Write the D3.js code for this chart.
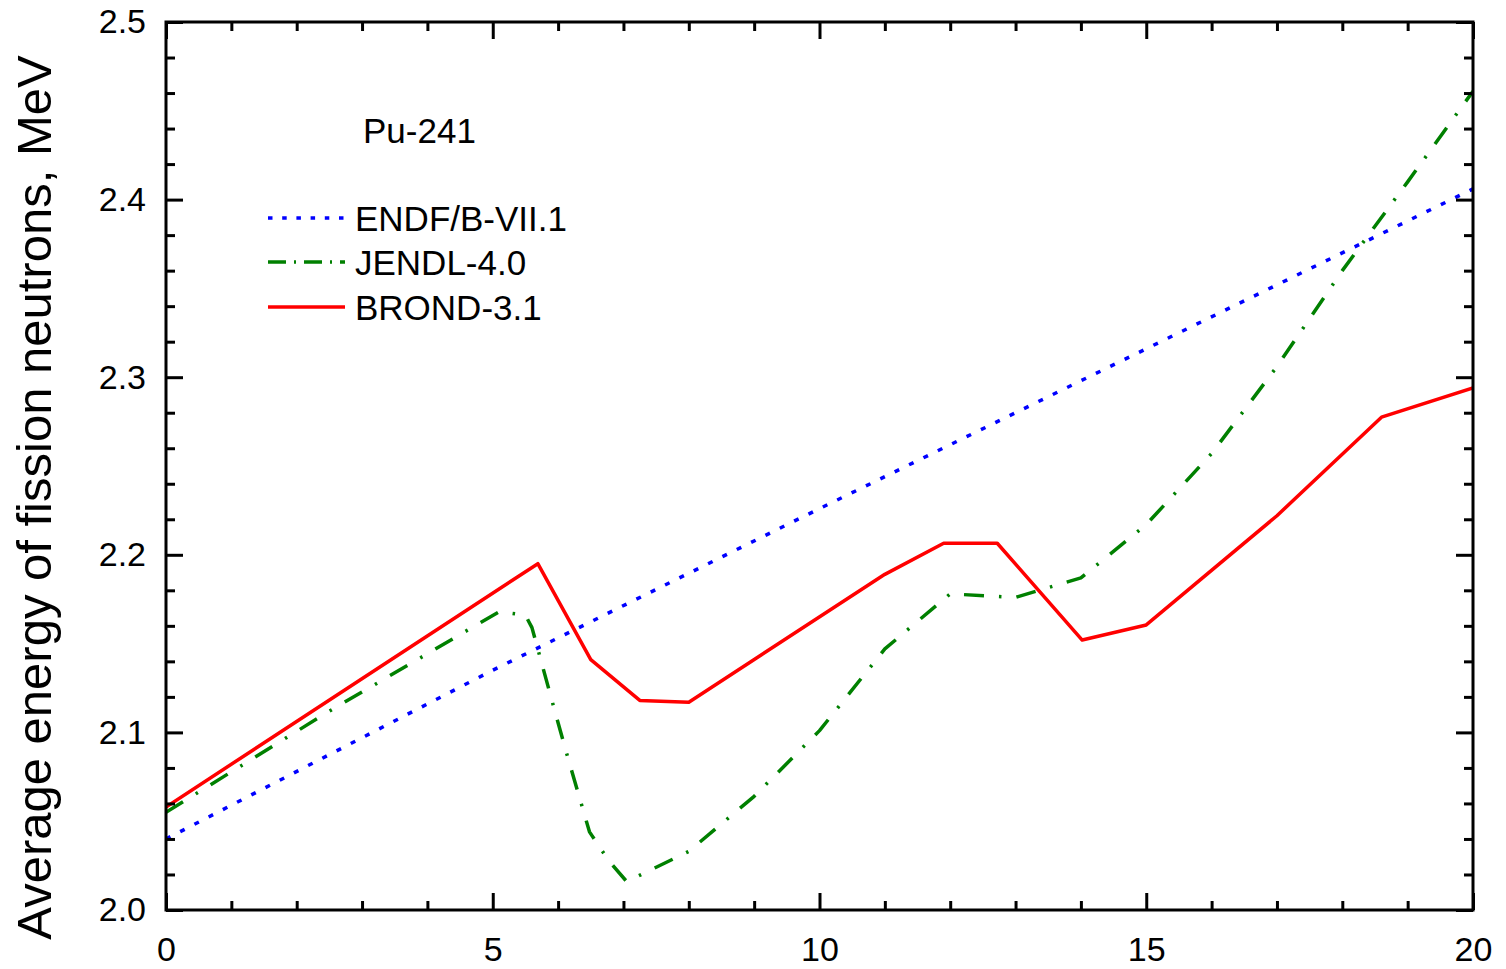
<!DOCTYPE html>
<html>
<head>
<meta charset="utf-8">
<script src="https://cdn.jsdelivr.net/npm/d3@7/dist/d3.min.js"></script>
<style>
  html, body { margin: 0; padding: 0; background: #fff; }
  svg { display: block; }
  text { font-family: "Liberation Sans", Arial, "DejaVu Sans", sans-serif; fill: #000; }
</style>
</head>
<body>
<svg id="chart" width="1506" height="969"></svg>
<script>
// ---- Data ----
const endfX  = [0, 5, 10, 15, 20];
const endfY  = [2.040, 2.135, 2.226, 2.316, 2.406];

const jendlX = [0, 2.5, 5.1, 5.5, 5.6, 5.95, 6.14, 6.48, 6.77, 7.05, 8.0, 9.0, 10.0, 11.0, 12.0, 13.0, 14.0, 15.0, 16.0, 17.0, 18.0, 19.0, 20.0];
const jendlY = [2.055, 2.112, 2.168, 2.166, 2.159, 2.112, 2.087, 2.044, 2.028, 2.016, 2.033, 2.064, 2.101, 2.147, 2.178, 2.176, 2.187, 2.217, 2.257, 2.306, 2.360, 2.410, 2.461];

const brondX = [0, 5.69, 6.5, 7.25, 8.0, 11.0, 11.9, 12.72, 14.02, 15.0, 17.0, 18.6, 20.0];
const brondY = [2.058, 2.195, 2.141, 2.118, 2.117, 2.189, 2.2065, 2.2065, 2.152, 2.1605, 2.222, 2.2775, 2.294];

const seriesNames = ["ENDF/B-VII.1", "JENDL-4.0", "BROND-3.1"];
const xMajorTicks = [0, 5, 10, 15, 20];
const xMinorTicks = [1, 2, 3, 4, 6, 7, 8, 9, 11, 12, 13, 14, 16, 17, 18, 19];
const yMajorTicks = [2.0, 2.1, 2.2, 2.3, 2.4, 2.5];
const yMinorTicks = [2.02, 2.04, 2.06, 2.08, 2.12, 2.14, 2.16, 2.18, 2.22, 2.24, 2.26, 2.28, 2.32, 2.34, 2.36, 2.38, 2.42, 2.44, 2.46, 2.48];
const yTitle = "Average energy of fission neutrons, MeV";
const plotLabel = "Pu-241";

// ---- Layout ----
const L = 166, R = 1473, T = 22, B = 910;
const svg = d3.select("#chart");
const x = d3.scaleLinear().domain([0, 20]).range([L, R]);
const y = d3.scaleLinear().domain([2.0, 2.5]).range([B, T]);

const styles = [
  { color: "#0000ff", dash: "5,11",        legDash: "4.5,9.7" },
  { color: "#008000", dash: "20,15,2.5,15", legDash: "18,8,2,8" },
  { color: "#ff0000", dash: null,          legDash: null }
];
const series = [
  endfX.map((v, i) => [v, endfY[i]]),
  jendlX.map((v, i) => [v, jendlY[i]]),
  brondX.map((v, i) => [v, brondY[i]])
];

const line = d3.line().x(d => x(d[0])).y(d => y(d[1]));
svg.append("clipPath").attr("id", "plotclip")
  .append("rect").attr("x", L).attr("y", T).attr("width", R - L).attr("height", B - T);

const gLines = svg.append("g").attr("clip-path", "url(#plotclip)");
series.forEach((s, i) => {
  gLines.append("path")
    .attr("d", line(s))
    .attr("fill", "none")
    .attr("stroke", styles[i].color)
    .attr("stroke-width", 3.5)
    .attr("stroke-linejoin", "round")
    .attr("stroke-dasharray", styles[i].dash);
});

// ---- Axes (inward ticks on all four sides) ----
function styleAxis(g) {
  g.select(".domain").remove();
  g.selectAll(".tick line").attr("stroke", "#000").attr("stroke-width", 3);
  g.selectAll(".tick text").attr("font-size", 34).attr("fill", "#000")
    .style("font-family", '"Liberation Sans", Arial, sans-serif');
}
const MAJ = 17, MIN = 9;

svg.append("g").attr("transform", `translate(0,${B})`)
  .call(d3.axisBottom(x).tickValues(xMajorTicks).tickSize(-MAJ).tickSizeOuter(0).tickPadding(27).tickFormat(d3.format("d")))
  .call(styleAxis);
svg.append("g").attr("transform", `translate(0,${B})`)
  .call(d3.axisBottom(x).tickValues(xMinorTicks).tickSize(-MIN).tickSizeOuter(0).tickFormat(""))
  .call(styleAxis);
svg.append("g").attr("transform", `translate(0,${T})`)
  .call(d3.axisTop(x).tickValues(xMajorTicks).tickSize(-MAJ).tickSizeOuter(0).tickFormat(""))
  .call(styleAxis);
svg.append("g").attr("transform", `translate(0,${T})`)
  .call(d3.axisTop(x).tickValues(xMinorTicks).tickSize(-MIN).tickSizeOuter(0).tickFormat(""))
  .call(styleAxis);

svg.append("g").attr("transform", `translate(${L},0)`)
  .call(d3.axisLeft(y).tickValues(yMajorTicks).tickSize(-MAJ).tickSizeOuter(0).tickPadding(20).tickFormat(d3.format(".1f")))
  .call(styleAxis);
svg.append("g").attr("transform", `translate(${L},0)`)
  .call(d3.axisLeft(y).tickValues(yMinorTicks).tickSize(-MIN).tickSizeOuter(0).tickFormat(""))
  .call(styleAxis);
svg.append("g").attr("transform", `translate(${R},0)`)
  .call(d3.axisRight(y).tickValues(yMajorTicks).tickSize(-MAJ).tickSizeOuter(0).tickFormat(""))
  .call(styleAxis);
svg.append("g").attr("transform", `translate(${R},0)`)
  .call(d3.axisRight(y).tickValues(yMinorTicks).tickSize(-MIN).tickSizeOuter(0).tickFormat(""))
  .call(styleAxis);

// frame
svg.append("rect").attr("x", L).attr("y", T).attr("width", R - L).attr("height", B - T)
  .attr("fill", "none").attr("stroke", "#000").attr("stroke-width", 3);

// ---- Y title ----
svg.append("text")
  .attr("transform", `translate(51,${(55 + 940) / 2}) rotate(-90)`)
  .attr("text-anchor", "middle")
  .attr("font-size", 49)
  .text(yTitle);

// ---- Label & legend ----
svg.append("text").attr("x", 363).attr("y", 143).attr("font-size", 35).text(plotLabel);

const legY = [218, 262, 307];
seriesNames.forEach((name, i) => {
  svg.append("line")
    .attr("x1", 268).attr("x2", 345).attr("y1", legY[i]).attr("y2", legY[i])
    .attr("stroke", styles[i].color).attr("stroke-width", 3.5)
    .attr("stroke-dasharray", styles[i].legDash);
  svg.append("text").attr("x", 355).attr("y", legY[i] + 13).attr("font-size", 35).text(name);
});
</script>
</body>
</html>
